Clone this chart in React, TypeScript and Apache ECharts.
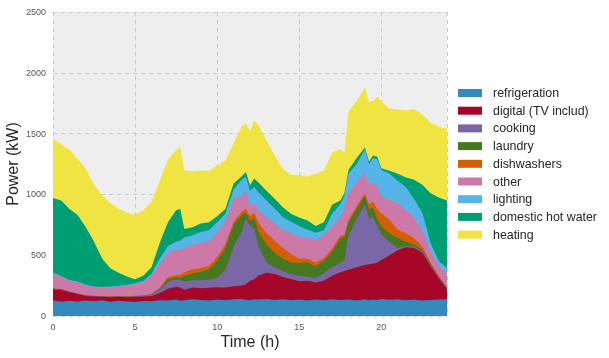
import React, { useEffect, useRef } from "react";
import * as echarts from "echarts";

const hours = [0,0.5,1,1.5,2,2.5,3,3.5,4,4.5,5,5.5,6,6.5,7,7.5,7.75,8,8.5,9,9.5,10,10.5,11,11.5,11.75,12,12.25,12.5,13,13.5,14,14.5,15,15.5,16,16.5,17,17.5,17.75,18,18.5,19,19.25,19.5,19.75,20,20.5,21,21.5,22,22.5,23,23.5,24];

const refrigeration = [130,118,126,120,128,122,130,118,126,120,116,124,122,130,128,135,126,130,138,132,128,135,130,138,140,134,130,138,135,140,132,138,130,135,128,136,130,138,132,134,136,128,138,130,135,132,140,134,138,130,136,128,132,135,138];
const digital = [90,97,69,60,37,38,28,37,32,35,42,36,43,60,97,105,109,85,97,96,104,102,105,107,110,128,160,162,195,215,213,182,175,150,162,139,160,192,228,236,244,272,282,295,295,308,320,366,402,435,424,392,278,175,82];
const cooking = [2,2,2,2,2,2,2,2,2,2,3,5,10,25,55,60,60,66,60,67,68,75,145,325,450,540,450,420,250,85,55,50,40,45,30,40,60,70,80,90,280,400,500,375,385,300,210,110,15,10,10,10,8,5,3];
const laundry = [2,2,2,2,2,2,2,2,2,2,2,2,3,10,25,18,20,49,55,70,85,143,180,180,130,50,40,90,120,150,120,100,95,105,120,95,105,130,200,190,110,80,70,80,75,60,65,70,85,35,15,15,12,7,5];
const dishwashers = [3,3,3,3,3,3,3,3,3,3,3,3,4,7,15,17,25,30,35,30,27,30,30,25,30,28,40,40,70,90,100,90,70,35,30,30,20,25,20,20,20,25,20,40,50,80,110,110,70,70,55,25,10,6,4];
const other = [123,98,88,88,78,68,65,73,75,88,96,108,148,198,200,210,200,200,200,205,203,205,190,185,125,150,80,80,100,135,140,145,170,180,170,185,190,180,155,210,220,195,160,160,160,180,140,165,215,190,170,130,90,87,118];
const lighting = [8,8,7,8,8,8,8,8,8,8,8,9,15,40,55,65,80,85,80,90,90,80,60,80,135,115,130,130,150,135,125,110,95,90,70,60,40,105,105,110,160,150,200,170,200,230,215,215,185,190,150,150,70,35,45];
const hotWater = [612,622,583,547,472,367,232,147,107,67,33,43,55,130,195,260,260,70,65,70,65,50,40,50,30,40,45,70,80,80,80,80,65,70,75,55,65,75,30,20,30,50,15,20,20,20,15,25,60,80,160,230,410,525,555];
const heating = [490,460,490,460,480,470,520,535,530,525,529,540,540,510,520,490,510,480,460,435,425,415,400,330,410,395,445,480,470,415,355,315,320,350,360,430,425,430,425,330,480,470,495,490,450,490,550,510,530,550,580,580,580,580,590];

const seriesNames = ["refrigeration","digital (TV includ)","cooking","laundry","dishwashers","other","lighting","domestic hot water","heating"];
const seriesValues = [refrigeration, digital, cooking, laundry, dishwashers, other, lighting, hotWater, heating];
const colors = ["#348ABD","#A60628","#7A68A6","#467821","#D55E00","#CC79A7","#56B4E9","#009E73","#F0E442"];

const yTicks = { min: 0, max: 2500, interval: 500 };
const xTicks = { min: 0, max: 24, interval: 5 };

export default function App() {
  const ref = useRef<HTMLDivElement>(null);
  useEffect(() => {
    if (!ref.current) return;
    const chart = echarts.init(ref.current, undefined, { renderer: "svg" });
    const font = "'Liberation Sans', Arial, sans-serif";
    // stacked layers: the top edge of each layer is the running sum of the series below it
    const tops = seriesValues.map((_, i) =>
      hours.map((h, j) => {
        let s = 0;
        for (let k = 0; k <= i; k++) s += seriesValues[k][j];
        return [h, s];
      })
    );
    const series = seriesNames
      .map((name, i) => ({
        name,
        type: "line",
        symbol: "none",
        showSymbol: false,
        color: colors[i],
        lineStyle: { width: 0 },
        areaStyle: { color: colors[i], opacity: 1 },
        data: tops[i],
      }))
      .reverse();
    chart.setOption({
      animation: false,
      textStyle: { fontFamily: font },
      grid: {
        left: 53,
        top: 12,
        width: 394,
        height: 304,
        show: true,
        backgroundColor: "#eeeeee",
        borderWidth: 0,
        containLabel: false,
        outerBoundsMode: "none",
      },
      legend: {
        orient: "vertical",
        left: 458,
        top: 86,
        padding: 0,
        itemWidth: 24,
        itemHeight: 8,
        itemGap: 3.7,
        icon: "rect",
        data: seriesNames,
        textStyle: { fontSize: 12.4, color: "#262626", lineHeight: 14, padding: [0, 0, 0, 6], fontFamily: font },
      },
      xAxis: {
        type: "value",
        min: xTicks.min,
        max: xTicks.max,
        interval: xTicks.interval,
        name: "Time (h)",
        nameLocation: "middle",
        nameGap: 17,
        nameMoveOverlap: false,
        nameTextStyle: { fontSize: 16, color: "#262626", fontFamily: font, verticalAlign: "top" },
        axisLine: { show: false },
        axisTick: { show: false },
        axisLabel: {
          fontSize: 9,
          color: "#555555",
          margin: 6,
          formatter: (v: number) => (v % 5 === 0 ? String(v) : ""),
        },
        splitLine: { show: true, lineStyle: { color: "#c9c9c9", type: [4, 4], width: 1 } },
      },
      yAxis: {
        type: "value",
        min: yTicks.min,
        max: yTicks.max,
        interval: yTicks.interval,
        name: "Power (kW)",
        nameLocation: "middle",
        nameGap: 33,
        nameMoveOverlap: false,
        nameTextStyle: { fontSize: 16, color: "#262626", fontFamily: font },
        axisLine: { show: false },
        axisTick: { show: false },
        axisLabel: { fontSize: 9, color: "#555555", margin: 7, formatter: (v: number) => String(v) },
        splitLine: { show: true, lineStyle: { color: "#c9c9c9", type: [4, 4], width: 1 } },
      },
      series,
    });
    return () => chart.dispose();
  }, []);
  return <div ref={ref} style={{ position: "fixed", left: 0, top: 0, width: 609, height: 358 }} />;
}
